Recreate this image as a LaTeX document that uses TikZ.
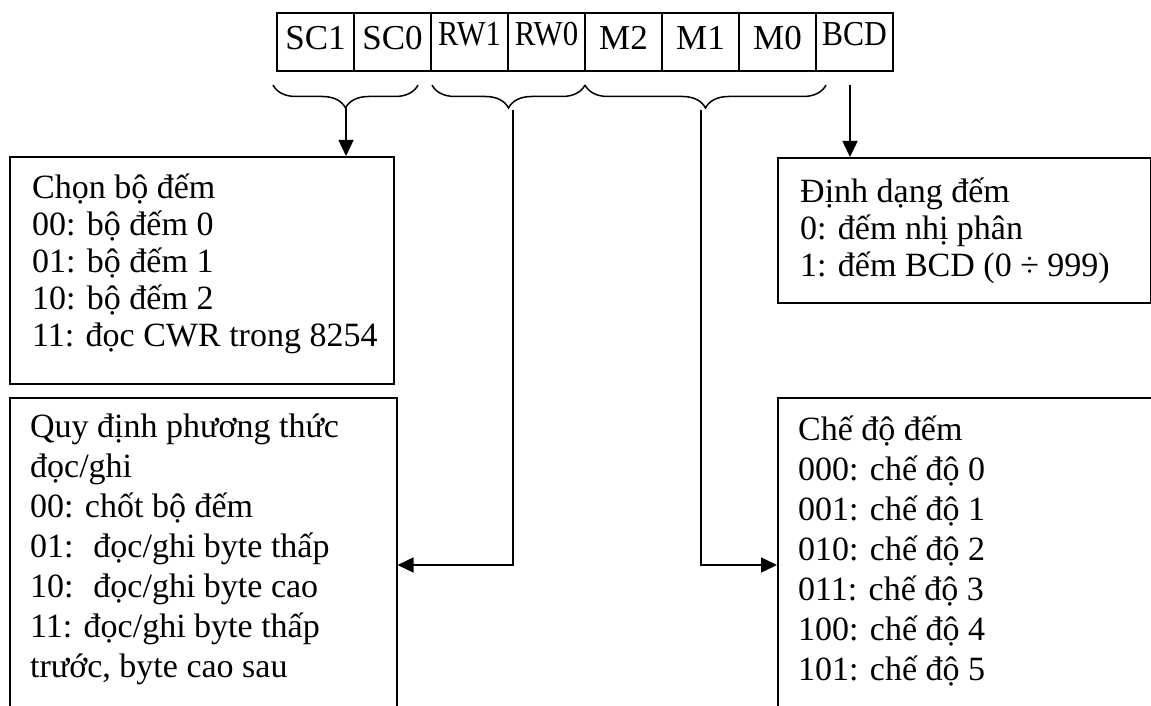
\documentclass[tikz,border=0pt]{standalone}
\usepackage{graphicx}
\usepackage{fontspec}
\setmainfont{Liberation Serif}
\usetikzlibrary{arrows.meta,calc,decorations.pathreplacing}

\begin{document}
\begin{tikzpicture}[x=1pt,y=-1pt,>=Latex,
    bitcell/.style={draw,line width=1.5pt,minimum width=77pt,minimum height=58pt,inner sep=0pt,
      font=\fontsize{35}{35}\selectfont,text height=22pt},
    infobox/.style={draw,line width=1.5pt,anchor=north west,inner sep=0pt},
    infotext/.style={anchor=north west,align=left,inner sep=0pt,
      font=\fontsize{34}{37}\selectfont,execute at begin node={\rule{0pt}{34pt}}},
    widetext/.style={infotext,font=\fontsize{34}{40}\selectfont},
    link/.style={line width=1.5pt,-{Triangle[width=15pt,length=16pt]}},
    grp/.style={decorate,decoration={brace,mirror,amplitude=23pt},line width=1.5pt}]
  \clip (0,0) rectangle (1151,706);
  % thanh ghi dieu khien
  \foreach \lbl/\sx/\dn [count=\i] in {SC1/1/6,SC0/1/6,RW1/0.87/15,RW0/0.88/15,M2/1/6,M1/1/6,M0/1/6,BCD/0.9/15}
    \node[bitcell,text depth=\dn pt] (b\i) at ({238.5+77*\i},42) {\scalebox{\sx}[1]{\lbl}};
  % cac nhom bit
  \draw[grp] (273,85) -- (418,85);
  \draw[grp] (432,85) -- (585,85);
  \draw[grp] (585,85) -- (826,85);
  \coordinate (selFoot) at (346,108);
  \coordinate (rwFoot) at (513,110);
  \coordinate (modeFoot) at (701,110);
  \coordinate (bcdFoot) at (850,85);
  \coordinate (rwBend) at (513,565);
  \coordinate (modeBend) at (701,565);
  % cac hop giai thich
  \node[infobox,minimum width=384pt,minimum height=227pt] (selBox) at (9,156) {};
  \node[infobox,minimum width=387pt,minimum height=360pt] (rwBox) at (9,397) {};
  \node[infobox,minimum width=373pt,minimum height=145pt] (fmtBox) at (777,157) {};
  \node[infobox,minimum width=420pt,minimum height=360pt] (modeBox) at (777,397) {};
  \node[infotext] (selText) at (32,174)
    {Chọn bộ đếm\\00: bộ đếm 0\\01: bộ đếm 1\\10: bộ đếm 2\\11: đọc CWR trong 8254};
  \node[widetext] (rwText) at (30,414)
    {Quy định phương thức\\đọc/ghi\\00: chốt bộ đếm\\01: \ đọc/ghi byte thấp\\10: \ đọc/ghi byte cao\\11: đọc/ghi byte thấp\\trước, byte cao sau};
  \node[infotext] (fmtText) at (800,178)
    {Định dạng đếm\\0: đếm nhị phân\\1: đếm BCD (0 ÷ 999)};
  \node[widetext] (modeText) at (798,416)
    {Chế độ đếm\\000: chế độ 0\\001: chế độ 1\\010: chế độ 2\\011: chế độ 3\\100: chế độ 4\\101: chế độ 5};
  % mui ten
  \draw[link] (selFoot) -- (selFoot |- selBox.north);
  \draw[link] (bcdFoot) -- (bcdFoot |- fmtBox.north);
  \draw[link] (rwFoot) -- (rwBend) -- (rwBend -| rwBox.east);
  \draw[link] (modeFoot) -- (modeBend) -- (modeBend -| modeBox.west);
\end{tikzpicture}
\end{document}
